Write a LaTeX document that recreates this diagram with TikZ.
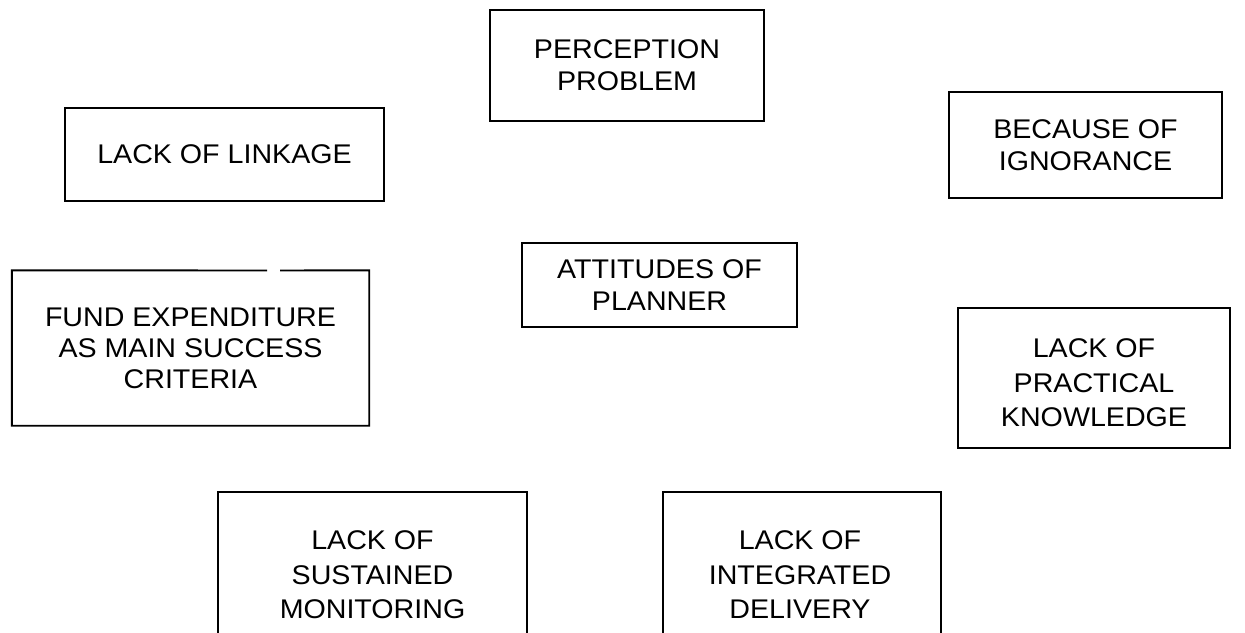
\documentclass[tikz,border=0pt]{standalone}
\usepackage{fontspec}
\setmainfont{Liberation Sans}[FakeStretch=1.06]
\begin{document}
\begin{tikzpicture}[x=1pt,y=-1pt,
  outline/.style={line width=1.9pt},
  txt/.style={align=center, inner sep=0pt, font=\fontsize{27}{32}\selectfont},
  txtfund/.style={align=center, inner sep=0pt, font=\fontsize{27}{31}\selectfont},
  txtwide/.style={align=center, inner sep=0pt, font=\fontsize{27}{34.5}\selectfont},
  box/.style={txt, draw, outline}]
\useasboundingbox (0,0) rectangle (1245,632);
% boxes with full outline
\node[box, minimum width=274pt, minimum height=111pt] (perc) at (627,65.5) {PERCEPTION\\PROBLEM};
\node[box, minimum width=319pt, minimum height=93pt] (link) at (224.5,154.5) {LACK OF LINKAGE};
\node[box, minimum width=273pt, minimum height=106pt] (igno) at (1085.5,145) {BECAUSE OF\\IGNORANCE};
\node[box, minimum width=275pt, minimum height=84pt] (att) at (659.5,285) {ATTITUDES OF\\PLANNER};
% fund expenditure box with a gap in its top edge
\node[txtfund, minimum width=357pt, minimum height=155pt] (fund) at (190.5,348) {FUND EXPENDITURE\\AS MAIN SUCCESS\\CRITERIA};
\coordinate (gapL) at (267,270.5);
\coordinate (gapR) at (280,270.5);
\draw[outline] (gapL) -- (fund.north west) -- (fund.south west) -- (fund.south east) -- (fund.north east) -- (gapR);
% practical knowledge box
\node[draw, outline, inner sep=0pt, minimum width=272pt, minimum height=140pt] (pracbox) at (1094,378) {};
\node[txtwide] (prac) at (1094,383) {LACK OF\\PRACTICAL\\KNOWLEDGE};
% bottom boxes, cut off by the lower edge
\node[txtwide] (sust) at (372.5,575) {LACK OF\\SUSTAINED\\MONITORING};
\coordinate (sustBL) at (218,634);
\coordinate (sustTL) at (218,492);
\coordinate (sustTR) at (527,492);
\coordinate (sustBR) at (527,634);
\draw[outline] (sustBL) -- (sustTL) -- (sustTR) -- (sustBR);
\node[txtwide] (integ) at (800,575) {LACK OF\\INTEGRATED\\DELIVERY};
\coordinate (integBL) at (663,634);
\coordinate (integTL) at (663,492);
\coordinate (integTR) at (941,492);
\coordinate (integBR) at (941,634);
\draw[outline] (integBL) -- (integTL) -- (integTR) -- (integBR);
\end{tikzpicture}
\end{document}
